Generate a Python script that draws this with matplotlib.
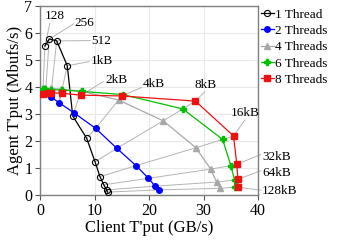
import matplotlib
matplotlib.use('Agg')
import matplotlib.pyplot as plt

plt.rcParams['font.family'] = ['Liberation Serif', 'DejaVu Serif']

sizes = ['128', '256', '512', '1kB', '2kB', '4kB', '8kB', '16kB', '32kB', '64kB', '128kB']

x_1t = [0.9, 1.7, 3.06, 5.0, 6.0, 8.56, 10.1, 11.0, 11.7, 12.2, 12.4]
y_1t = [5.52, 5.78, 5.71, 4.79, 2.93, 2.10, 1.23, 0.68, 0.38, 0.19, 0.11]

x_2t = [0.5, 1.0, 1.96, 3.5, 6.2, 10.2, 14.1, 17.6, 19.9, 21.1, 21.9]
y_2t = [3.78, 3.75, 3.64, 3.42, 3.05, 2.47, 1.73, 1.09, 0.62, 0.33, 0.19]

x_4t = [0.5, 1.0, 2.0, 3.9, 7.5, 14.4, 22.6, 28.6, 31.3, 32.4, 33.0]
y_4t = [3.95, 3.95, 3.95, 3.92, 3.85, 3.52, 2.75, 1.75, 0.96, 0.48, 0.25]

x_6t = [0.5, 1.0, 2.0, 4.0, 7.7, 15.2, 26.2, 33.5, 35.0, 35.7, 35.8]
y_6t = [3.92, 3.92, 3.90, 3.89, 3.84, 3.72, 3.19, 2.06, 1.09, 0.56, 0.29]

x_8t = [0.6, 1.5, 2.0, 4.0, 7.6, 15.0, 28.5, 35.5, 36.1, 36.3, 36.3]
y_8t = [3.74, 3.77, 3.79, 3.77, 3.70, 3.67, 3.48, 2.19, 1.14, 0.58, 0.29]

# label placement (text centre, end of leader line)
label_xy = [(2.75, 6.62), (8.1, 6.38), (11.2, 5.72), (11.4, 4.96), (14.0, 4.26),
            (20.8, 4.10), (30.3, 4.07), (37.6, 3.04), (43.5, 1.42), (43.5, 0.80), (44.0, 0.16)]
leader_end = [(1.8, 6.36), (6.1, 6.33), (9.2, 5.72), (9.0, 4.94), (11.6, 4.20),
              (18.6, 3.98), (30.2, 3.82), (37.6, 2.78), (40.5, 1.50), (40.5, 0.90), (40.5, 0.18)]

fig = plt.figure(figsize=(3.45, 2.52), dpi=100)
ax = fig.add_axes([0.116, 0.226, 0.632, 0.750])

ax.grid(True, color='#e8e8e8', linewidth=0.8, zorder=0)

series = [
    (x_1t, y_1t, '1 Thread', 'black', dict(marker='o', mfc='none', mec='black', ms=4.4, mew=0.8)),
    (x_2t, y_2t, '2 Threads', '#0000ff', dict(marker='o', mfc='#0000ff', mec='#0000ff', ms=4.0)),
    (x_4t, y_4t, '4 Threads', '#a8a8a8', dict(marker='^', mfc='#a8a8a8', mec='#a8a8a8', ms=4.4)),
    (x_6t, y_6t, '6 Threads', '#00c000', dict(marker='P', mfc='#00c000', mec='#00c000', ms=4.0)),
    (x_8t, y_8t, '8 Threads', '#ee1111', dict(marker='s', mfc='#ee1111', mec='#ee1111', ms=4.4)),
]

# leader lines joining the same message size across thread counts
for i, s in enumerate(sizes):
    xs = [ser[0][i] for ser in series]
    ys = [ser[1][i] for ser in series]
    ax.plot(xs, ys, color='#b4b4b4', linewidth=0.7, zorder=2)
    if i < 4:
        ax0, ay0 = x_1t[i], y_1t[i]
    else:
        ax0, ay0 = x_8t[i], y_8t[i]
    ex, ey = leader_end[i]
    ax.plot([ax0, ex], [ay0, ey], color='#b4b4b4', linewidth=0.7, zorder=2, clip_on=False)
    tx, ty = label_xy[i]
    ax.text(tx, ty, s, fontsize=9.5, ha='center', va='center', zorder=6, clip_on=False)

for xs, ys, lab, col, mk in series:
    ax.plot(xs, ys, color=col, linewidth=0.9, label=lab, zorder=4, **mk)

ax.set_xlim(0, 40)
ax.set_ylim(0, 7)
ax.set_xticks([0, 10, 20, 30, 40])
ax.set_yticks(range(0, 8))
ax.tick_params(labelsize=11.5, direction='out', length=3.5, width=0.8, color='#555555', pad=2)
for sp in ax.spines.values():
    sp.set_color('#808080')
    sp.set_linewidth(1.0)

ax.set_xlabel("Client T'put (GB/s)", fontsize=12, labelpad=1)
ax.set_ylabel("Agent T'put (Mbufs/s)", fontsize=12, labelpad=1)

ax.legend(loc='upper left', bbox_to_anchor=(1.0, 1.0), frameon=False, fontsize=9.5,
          handlelength=1.0, handletextpad=0.1, labelspacing=0.3, borderpad=0.1,
          borderaxespad=0.1)

fig.savefig('out.png', dpi=100)
